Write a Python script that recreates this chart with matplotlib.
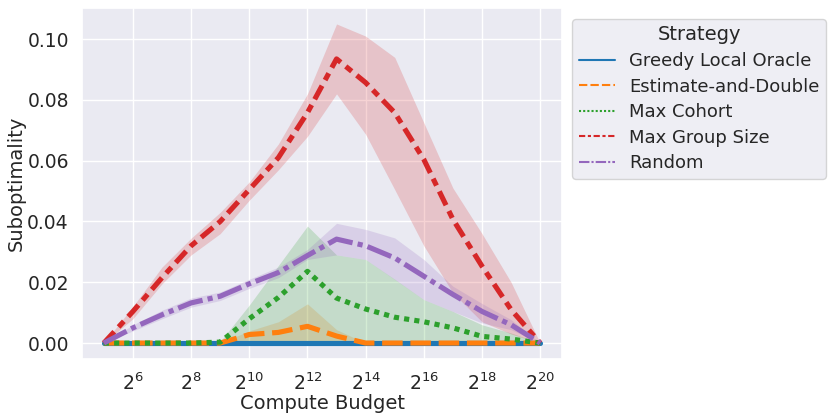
import numpy as np
import matplotlib
matplotlib.use("Agg")
import matplotlib.pyplot as plt
import seaborn as sns
from matplotlib.lines import Line2D
import matplotlib.ticker as mticker

sns.set_theme(style="darkgrid")
plt.rcParams['font.family'] = ['DejaVu Sans']

# ── data ─────────────────────────────────────────────────────────────────────
budget_exp = list(range(5, 21))   # compute budget = 2**k
budget = [2 ** k for k in budget_exp]

strategies = ["Greedy Local Oracle", "Estimate-and-Double", "Max Cohort",
              "Max Group Size", "Random"]

greedy_mean = [0.0] * 16
greedy_lo   = [0.0] * 16
greedy_hi   = [0.0] * 16

estdbl_mean = [0, 0, 0, 0, 0, 0.0028, 0.0035, 0.0055, 0.0023, 0, 0, 0, 0, 0, 0, 0]
estdbl_lo   = [0] * 16
estdbl_hi   = [0, 0, 0, 0, 0, 0.0040, 0.0070, 0.0129, 0.0044, 0, 0, 0, 0, 0, 0, 0]

cohort_mean = [0, 0, 0, 0, 0.0003, 0.0080, 0.0150, 0.0236, 0.0148, 0.0112,
               0.0085, 0.0070, 0.0050, 0.0022, 0.0013, 0]
cohort_lo   = [0] * 16
cohort_hi   = [0, 0, 0, 0, 0.0005, 0.0125, 0.0255, 0.0385, 0.0290, 0.0275,
               0.0210, 0.0143, 0.0104, 0.0060, 0.0033, 0]

group_mean = [0, 0.0104, 0.0215, 0.0320, 0.0400, 0.0505, 0.0610, 0.0758, 0.0935,
              0.0857, 0.0758, 0.0604, 0.0407, 0.0253, 0.0110, 0]
group_lo   = [0, 0.0080, 0.0195, 0.0290, 0.0360, 0.0470, 0.0570, 0.0680, 0.0820,
              0.0687, 0.0505, 0.0320, 0.0165, 0.0070, 0.0030, 0]
group_hi   = [0, 0.0120, 0.0250, 0.0345, 0.0430, 0.0530, 0.0655, 0.0820, 0.1050,
              0.1010, 0.0940, 0.0725, 0.0510, 0.0360, 0.0200, 0]

random_mean = [0, 0.0050, 0.0093, 0.0132, 0.0154, 0.0195, 0.0232, 0.0288, 0.0342,
               0.0320, 0.0280, 0.0220, 0.0160, 0.0104, 0.0060, 0]
random_lo   = [0, 0.0040, 0.0080, 0.0118, 0.0140, 0.0180, 0.0215, 0.0275, 0.0290,
               0.0275, 0.0209, 0.0143, 0.0104, 0.0066, 0.0044, 0]
random_hi   = [0, 0.0060, 0.0108, 0.0148, 0.0168, 0.0210, 0.0250, 0.0308, 0.0394,
               0.0374, 0.0346, 0.0275, 0.0187, 0.0130, 0.0077, 0]

means = [greedy_mean, estdbl_mean, cohort_mean, group_mean, random_mean]
lows  = [greedy_lo, estdbl_lo, cohort_lo, group_lo, random_lo]
highs = [greedy_hi, estdbl_hi, cohort_hi, group_hi, random_hi]

# ── style ────────────────────────────────────────────────────────────────────
colors = sns.color_palette("tab10")[:5]
dashes = [(None, None), (4, 1.5), (1, 1), (3, 1.25, 1.5, 1.25), (5, 1, 1, 1)]

fig = plt.figure(figsize=(8.31, 4.18), dpi=100)
ax = fig.add_axes([82 / 831, 59 / 418, 480 / 831, 351 / 418])

for m, lo, hi, c, d in zip(means, lows, highs, colors, dashes):
    ax.fill_between(budget, lo, hi, color=c, alpha=0.2, linewidth=0)
for m, c, d in zip(means, colors, dashes):
    ln, = ax.plot(budget, m, color=c, lw=3.7)
    if d[0] is not None:
        ln.set_dashes(d)

ax.set_xscale('log', base=2)
ax.set_xticks([2 ** k for k in range(6, 21, 2)])
ax.xaxis.set_minor_locator(mticker.NullLocator())
ax.set_yticks([0, 0.02, 0.04, 0.06, 0.08, 0.10])
ax.yaxis.set_major_formatter(mticker.FormatStrFormatter('%.2f'))
ax.tick_params(labelsize=13.5)
ax.set_xlabel('Compute Budget', fontsize=14, labelpad=0)
ax.set_ylabel('Suboptimality', fontsize=14, labelpad=1)

handles = []
for name, c, d in zip(strategies, colors, dashes):
    h = Line2D([], [], color=c, lw=1.5)
    if d[0] is not None:
        h.set_dashes(d)
    handles.append(h)
leg = ax.legend(handles=handles, labels=strategies, title='Strategy',
                loc='upper left', bbox_to_anchor=(1.003, 0.994), fontsize=13,
                title_fontsize=14, labelspacing=0.42, borderpad=0.35,
                handlelength=2.0)

fig.savefig('out.png', dpi=100)
